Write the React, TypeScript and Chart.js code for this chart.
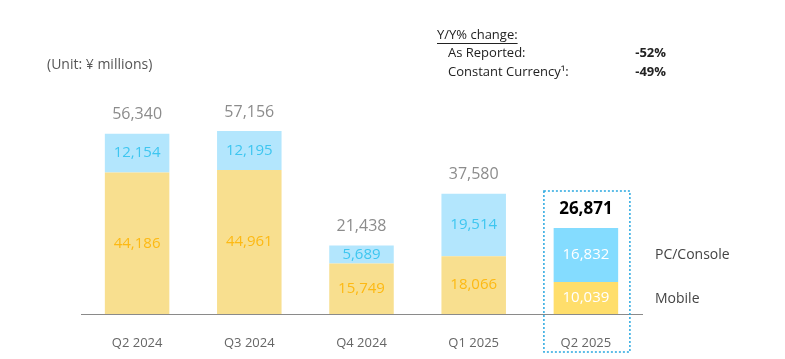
import React, { useEffect, useRef } from "react";
import { Chart, registerables } from "chart.js";

Chart.register(...registerables);

const quarters = ["Q2 2024", "Q3 2024", "Q4 2024", "Q1 2025", "Q2 2025"];
const mobileValues = [44186, 44961, 15749, 18066, 10039];
const pcConsoleValues = [12154, 12195, 5689, 19514, 16832];
const totalValues = [56340, 57156, 21438, 37580, 26871];
const seriesNames = ["Mobile", "PC/Console"];
const unitNote = "(Unit: ¥ millions)";
const yoyTitle = "Y/Y% change:";
const yoyRows = [
  ["As Reported:", "-52%"],
  ["Constant Currency¹:", "-49%"],
];

const FONT = "'Open Sans', 'DejaVu Sans', sans-serif";
const fmt = (v: number) => v.toLocaleString("en-US");

const last = quarters.length - 1;
const mobileColors = quarters.map((_, i) => (i === last ? "#FFDE6B" : "#F8DF8F"));
const pcColors = quarters.map((_, i) => (i === last ? "#84DCFF" : "#B3E6FD"));
const mobileText = quarters.map((_, i) => (i === last ? "#FFFFFF" : "#FDB913"));
const pcText = quarters.map((_, i) => (i === last ? "#FFFFFF" : "#3EC6F0"));

const overlay = {
  id: "overlay",
  afterDatasetsDraw(chart: any) {
    const ctx = chart.ctx;
    const m0 = chart.getDatasetMeta(0);
    const m1 = chart.getDatasetMeta(1);
    ctx.save();
    ctx.textAlign = "center";
    ctx.textBaseline = "middle";
    quarters.forEach((_, i) => {
      const b0 = m0.data[i];
      const b1 = m1.data[i];
      ctx.font = `15px ${FONT}`;
      ctx.fillStyle = mobileText[i];
      ctx.fillText(fmt(mobileValues[i]), b0.x, (b0.y + b0.base) / 2);
      ctx.fillStyle = pcText[i];
      ctx.fillText(fmt(pcConsoleValues[i]), b1.x, (b1.y + b1.base) / 2);
      if (i === last) {
        ctx.font = `bold 17px ${FONT}`;
        ctx.fillStyle = "#000000";
      } else {
        ctx.font = `16px ${FONT}`;
        ctx.fillStyle = "#8C8C8C";
      }
      ctx.fillText(fmt(totalValues[i]), b1.x, b1.y - 19);
    });

    // legend labels beside last bar
    const lb0 = m0.data[last];
    const lb1 = m1.data[last];
    ctx.textAlign = "left";
    ctx.font = `14px ${FONT}`;
    ctx.fillStyle = "#444444";
    const lx = chart.chartArea.right + 13;
    ctx.fillText(seriesNames[1], lx, (lb1.y + lb1.base) / 2);
    ctx.fillText(seriesNames[0], lx, (lb0.y + lb0.base) / 2 + 1);

    // dotted highlight box
    ctx.strokeStyle = "#2AA8E0";
    ctx.lineWidth = 1.5;
    ctx.setLineDash([2, 2]);
    const bx0 = lb1.x - 42;
    const bx1 = lb1.x + 44;
    const by0 = lb1.y - 37;
    const by1 = chart.chartArea.bottom + 38;
    ctx.strokeRect(bx0, by0, bx1 - bx0, by1 - by0);
    ctx.setLineDash([]);

    // header notes
    ctx.font = `14px ${FONT}`;
    ctx.fillStyle = "#555555";
    ctx.fillText(unitNote, 47, 65);

    ctx.font = `13px ${FONT}`;
    ctx.fillStyle = "#222222";
    ctx.fillText(yoyTitle, 437, 35);
    const w = ctx.measureText(yoyTitle).width;
    ctx.strokeStyle = "#222222";
    ctx.lineWidth = 1;
    ctx.beginPath();
    ctx.moveTo(437, 43.5);
    ctx.lineTo(437 + w, 43.5);
    ctx.stroke();
    yoyRows.forEach((r, k) => {
      const y = 53 + k * 19;
      ctx.textAlign = "left";
      ctx.font = `13px ${FONT}`;
      ctx.fillText(r[0], 448, y);
      ctx.textAlign = "right";
      ctx.font = `bold 13px ${FONT}`;
      ctx.fillText(r[1], 666, y);
    });
    ctx.restore();
  },
};

export default function App() {
  const ref = useRef<HTMLCanvasElement>(null);
  useEffect(() => {
    if (!ref.current) return;
    const chart = new Chart(ref.current, {
      type: "bar",
      data: {
        labels: quarters,
        datasets: [
          {
            label: seriesNames[0],
            data: mobileValues,
            backgroundColor: mobileColors,
            barPercentage: 0.575,
            categoryPercentage: 1,
          },
          {
            label: seriesNames[1],
            data: pcConsoleValues,
            backgroundColor: pcColors,
            barPercentage: 0.575,
            categoryPercentage: 1,
          },
        ],
      },
      options: {
        responsive: false,
        animation: false,
        layout: { padding: { left: 81, right: 143, top: 58, bottom: 0 } },
        plugins: { legend: { display: false }, tooltip: { enabled: false } },
        scales: {
          x: {
            stacked: true,
            grid: { display: false },
            border: { display: true, color: "#8A8A8A", width: 1 },
            ticks: {
              color: "#666666",
              font: { family: FONT, size: 13 },
              padding: 13,
            },
            afterFit: (s: any) => {
              s.height = 45;
            },
          },
          y: {
            stacked: true,
            display: false,
            min: 0,
            max: 80000,
          },
        },
      },
      plugins: [overlay],
    });
    return () => chart.destroy();
  }, []);
  return (
    <div style={{ position: "fixed", left: 0, top: 0, width: 785, height: 359, background: "#fff" }}>
      <canvas ref={ref} width={785} height={359} />
    </div>
  );
}
